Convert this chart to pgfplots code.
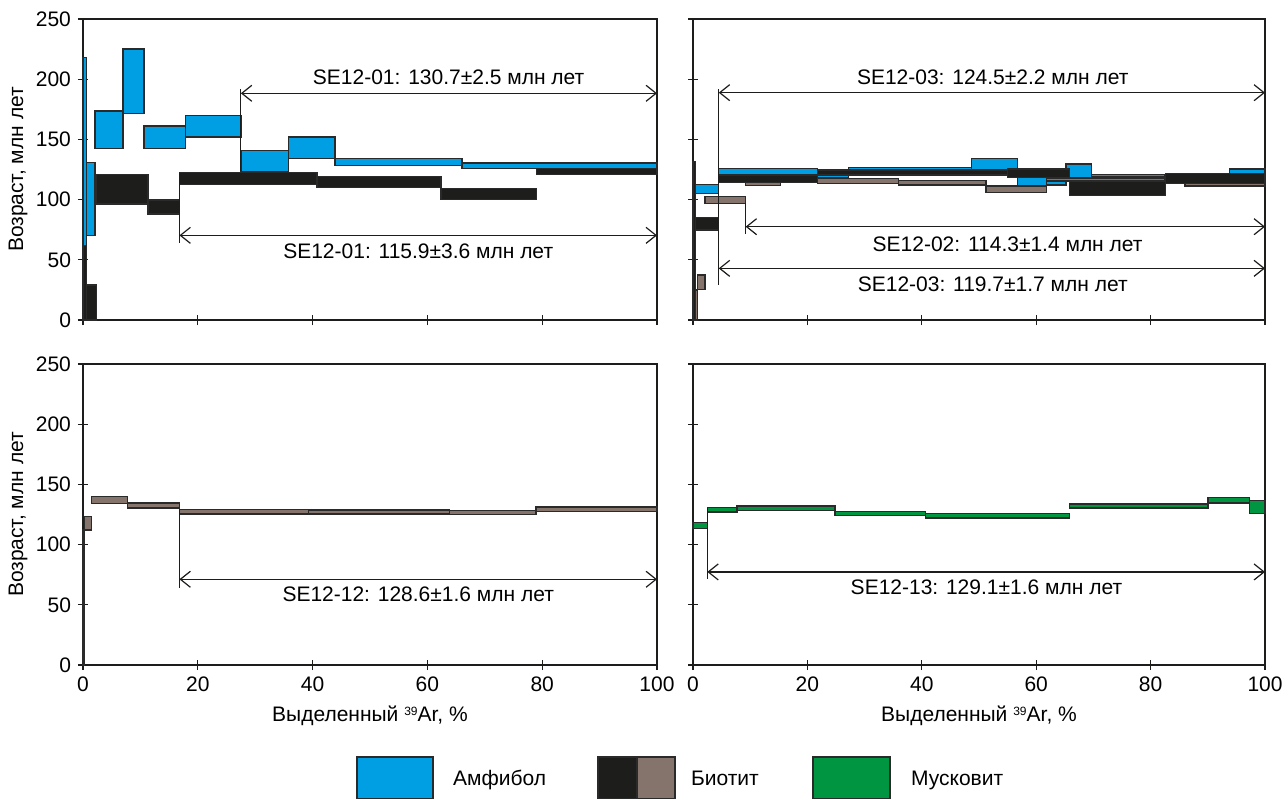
\documentclass[border=0pt]{standalone}
\usepackage{fontspec}
\setmainfont{Liberation Sans}
\usepackage{pgfplots}
\pgfplotsset{compat=1.18}
\usetikzlibrary{arrows.meta}

\definecolor{amph}{HTML}{009FE3}
\definecolor{bio}{HTML}{1D1D1B}
\definecolor{biob}{HTML}{85746B}
\definecolor{musc}{HTML}{009540}
\definecolor{edge}{HTML}{2A2A2A}

\tikzset{
  plat/.style={line width=0.6pt, draw=bio, {Straight Barb[length=5pt,width=8pt]}-{Straight Barb[length=5pt,width=8pt]}},
  vline/.style={line width=0.6pt, draw=bio},
}
\pgfplotsset{
  panel/.style={
    anchor=south west, scale only axis,
    width=287pt, height=150.5pt,
    xmin=0, xmax=100, ymin=0, ymax=250,
    xtick={0,20,...,100}, ytick={0,50,...,250},
    tick pos=left, tick align=center, major tick length=5pt,
    axis line style={line width=0.6pt, draw=bio},
    tick style={line width=0.6pt, draw=bio},
    /pgf/number format/assume math mode=true,
    ticklabel style={font=\fontsize{10.5}{12.6}\selectfont},
    label style={font=\fontsize{10.5}{12.6}\selectfont},
    every axis y label/.style={at={(axis description cs:0,0.5)}, rotate=90, anchor=center, yshift=32.5pt},
    every axis x label/.style={at={(axis description cs:0.5,0)}, anchor=center, yshift=-25.5pt},
    clip=false,
  },
  amph/.style={draw=edge, fill=amph, line width=0.7pt},
  bio/.style={draw=edge, fill=bio, line width=0.7pt},
  biob/.style={draw=edge, fill=biob, line width=0.7pt},
  musc/.style={draw=edge, fill=musc, line width=0.7pt},
}
\newcommand{\arsup}{\raisebox{3.2pt}{\fontsize{6}{6}\selectfont 39}}

\begin{document}
\begin{tikzpicture}[font=\fontsize{10.5}{12.6}\selectfont]

% top left: SE12-01 amphibole and biotite
\begin{axis}[panel, at={(41.5pt,240pt)}, xticklabels={}, ylabel={Возраст, млн лет}]
  \addplot[amph] coordinates {(0,60) (0,218) (0.6,218) (0.6,60)} -- cycle;
  \addplot[amph] coordinates {(0.6,70) (0.6,131) (2.1,131) (2.1,70)} -- cycle;
  \addplot[amph] coordinates {(2.1,142.6) (2.1,173.6) (7.0,173.6) (7.0,142.6)} -- cycle;
  \addplot[amph] coordinates {(7.0,171.7) (7.0,225) (10.6,225) (10.6,171.7)} -- cycle;
  \addplot[amph] coordinates {(10.6,142.6) (10.6,161) (17.9,161) (17.9,142.6)} -- cycle;
  \addplot[amph] coordinates {(17.9,152) (17.9,170) (27.5,170) (27.5,152)} -- cycle;
  \addplot[amph] coordinates {(27.5,123.2) (27.5,140.6) (35.8,140.6) (35.8,123.2)} -- cycle;
  \addplot[amph] coordinates {(35.8,134.3) (35.8,152) (43.9,152) (43.9,134.3)} -- cycle;
  \addplot[amph] coordinates {(43.9,128.5) (43.9,134.3) (66.0,134.3) (66.0,128.5)} -- cycle;
  \addplot[amph] coordinates {(66.0,126.0) (66.0,130.4) (100,130.4) (100,126.0)} -- cycle;

  \addplot[bio] coordinates {(0,0) (0,62) (0.6,62) (0.6,0)} -- cycle;
  \addplot[bio] coordinates {(0.6,0) (0.6,29) (2.4,29) (2.4,0)} -- cycle;
  \addplot[bio] coordinates {(2.4,96.3) (2.4,120.7) (11.3,120.7) (11.3,96.3)} -- cycle;
  \addplot[bio] coordinates {(11.3,88) (11.3,99.7) (16.8,99.7) (16.8,88)} -- cycle;
  \addplot[bio] coordinates {(16.8,112.7) (16.8,122.3) (40.8,122.3) (40.8,112.7)} -- cycle;
  \addplot[bio] coordinates {(40.8,110.2) (40.8,119) (62.4,119) (62.4,110.2)} -- cycle;
  \addplot[bio] coordinates {(62.4,100.2) (62.4,109.4) (79.0,109.4) (79.0,100.2)} -- cycle;
  \addplot[bio] coordinates {(79.0,121) (79.0,126) (100,126) (100,121)} -- cycle;

  \draw[vline] (axis cs:27.5,124) -- (axis cs:27.5,192);
  \draw[plat] (axis cs:27.5,188.3) -- (axis cs:100,188.3);
  \node[anchor=base] at (axis cs:63.7,196) {SE12-01: 130.7±2.5 млн лет};
  \draw[vline] (axis cs:16.8,122.3) -- (axis cs:16.8,63.7);
  \draw[plat] (axis cs:16.8,70.3) -- (axis cs:100,70.3);
  \node[anchor=base] at (axis cs:58.4,51.2) {SE12-01: 115.9±3.6 млн лет};
\end{axis}

% top right: SE12-03 amphibole, SE12-02 and SE12-03 biotite
\begin{axis}[panel, at={(346.5pt,240pt)}, width=286pt, xticklabels={}, yticklabels={}]
  \addplot[amph] coordinates {(0,105.2) (0,112.7) (4.5,112.7) (4.5,105.2)} -- cycle;
  \addplot[amph] coordinates {(4.5,120.4) (4.5,126) (21.8,126) (21.8,120.4)} -- cycle;
  \addplot[amph] coordinates {(21.8,118.5) (21.8,123) (27.2,123) (27.2,118.5)} -- cycle;
  \addplot[amph] coordinates {(27.2,122) (27.2,126.9) (48.7,126.9) (48.7,122)} -- cycle;
  \addplot[amph] coordinates {(48.7,125.2) (48.7,134.3) (56.7,134.3) (56.7,125.2)} -- cycle;
  \addplot[amph] coordinates {(56.7,111.5) (56.7,119) (61.8,119) (61.8,111.5)} -- cycle;
  \addplot[amph] coordinates {(61.8,112) (61.8,119) (65.2,119) (65.2,112)} -- cycle;
  \addplot[amph] coordinates {(65.2,118.5) (65.2,129.6) (69.7,129.6) (69.7,118.5)} -- cycle;
  \addplot[amph] coordinates {(69.7,118.8) (69.7,121) (82.5,121) (82.5,118.8)} -- cycle;
  \addplot[amph] coordinates {(82.5,116) (82.5,121) (93.8,121) (93.8,116)} -- cycle;
  \addplot[amph] coordinates {(93.8,121) (93.8,125.4) (100,125.4) (100,121)} -- cycle;

  \addplot[biob] coordinates {(0.3,0) (0.3,25) (0.8,25) (0.8,0)} -- cycle;
  \addplot[biob] coordinates {(0.8,25.5) (0.8,37.4) (2.1,37.4) (2.1,25.5)} -- cycle;
  \addplot[biob] coordinates {(2.1,96.9) (2.1,102.4) (9.2,102.4) (9.2,96.9)} -- cycle;
  \addplot[biob] coordinates {(9.2,111.5) (9.2,114.3) (15.3,114.3) (15.3,111.5)} -- cycle;
  \addplot[biob] coordinates {(15.3,114.5) (15.3,119) (21.8,119) (21.8,114.5)} -- cycle;
  \addplot[biob] coordinates {(21.8,113.3) (21.8,117.5) (35.9,117.5) (35.9,113.3)} -- cycle;
  \addplot[biob] coordinates {(35.9,112.1) (35.9,115.7) (51.2,115.7) (51.2,112.1)} -- cycle;
  \addplot[biob] coordinates {(51.2,105.7) (51.2,111.3) (61.8,111.3) (61.8,105.7)} -- cycle;
  \addplot[biob] coordinates {(61.8,115.5) (61.8,118) (82.5,118) (82.5,115.5)} -- cycle;
  \addplot[biob] coordinates {(82.5,114) (82.5,118) (86,118) (86,114)} -- cycle;
  \addplot[biob] coordinates {(86,111.3) (86,114) (100,114) (100,111.3)} -- cycle;

  \addplot[bio] coordinates {(0,0) (0,131.5) (0.4,131.5) (0.4,0)} -- cycle;
  \addplot[bio] coordinates {(0.4,74.8) (0.4,85.3) (4.5,85.3) (4.5,74.8)} -- cycle;
  \addplot[bio] coordinates {(4.5,114.3) (4.5,120.4) (21.8,120.4) (21.8,114.3)} -- cycle;
  \addplot[bio] coordinates {(21.8,120.4) (21.8,124.6) (55.0,124.6) (55.0,120.4)} -- cycle;
  \addplot[bio] coordinates {(55.0,118.2) (55.0,125.4) (65.8,125.4) (65.8,118.2)} -- cycle;
  \addplot[bio] coordinates {(65.8,103.5) (65.8,115) (82.6,115) (82.6,103.5)} -- cycle;
  \addplot[bio] coordinates {(82.6,113.5) (82.6,121.8) (100,121.8) (100,113.5)} -- cycle;

  \draw[vline] (axis cs:4.5,191.6) -- (axis cs:4.5,29);
  \draw[plat] (axis cs:4.5,188.8) -- (axis cs:100,188.8);
  \node[anchor=base] at (axis cs:52.4,195.2) {SE12-03: 124.5±2.2 млн лет};
  \draw[vline] (axis cs:9.2,97) -- (axis cs:9.2,71.4);
  \draw[plat] (axis cs:9.2,77.5) -- (axis cs:100,77.5);
  \node[anchor=base] at (axis cs:55.0,56.7) {SE12-02: 114.3±1.4 млн лет};
  \draw[plat] (axis cs:4.5,42.9) -- (axis cs:100,42.9);
  \node[anchor=base] at (axis cs:52.4,23.5) {SE12-03: 119.7±1.7 млн лет};
\end{axis}

% bottom left: SE12-12 biotite
\begin{axis}[panel, at={(41.5pt,67.5pt)}, ylabel={Возраст, млн лет}, xlabel={Выделенный \arsup Ar, \%}]
  \addplot[biob] coordinates {(0,0) (0,112) (0.3,112) (0.3,0)} -- cycle;
  \addplot[biob] coordinates {(0.3,112.2) (0.3,123.3) (1.5,123.3) (1.5,112.2)} -- cycle;
  \addplot[biob] coordinates {(1.5,134.3) (1.5,139.9) (7.8,139.9) (7.8,134.3)} -- cycle;
  \addplot[biob] coordinates {(7.8,130.4) (7.8,134.5) (16.8,134.5) (16.8,130.4)} -- cycle;
  \addplot[biob] coordinates {(16.8,125.4) (16.8,129.3) (39.3,129.3) (39.3,125.4)} -- cycle;
  \addplot[biob] coordinates {(39.3,125.5) (39.3,128.6) (63.8,128.6) (63.8,125.5)} -- cycle;
  \addplot[biob] coordinates {(63.8,124.9) (63.8,128.5) (78.9,128.5) (78.9,124.9)} -- cycle;
  \addplot[biob] coordinates {(78.9,127.4) (78.9,131.2) (100,131.2) (100,127.4)} -- cycle;

  \draw[vline] (axis cs:16.8,129.3) -- (axis cs:16.8,64.3);
  \draw[plat] (axis cs:16.8,71.2) -- (axis cs:100,71.2);
  \node[anchor=base] at (axis cs:58.4,52.6) {SE12-12: 128.6±1.6 млн лет};
\end{axis}

% bottom right: SE12-13 muscovite
\begin{axis}[panel, at={(346.5pt,67.5pt)}, width=286pt, yticklabels={}, xlabel={Выделенный \arsup Ar, \%}]
  \addplot[musc] coordinates {(0,113.3) (0,118.3) (2.5,118.3) (2.5,113.3)} -- cycle;
  \addplot[musc] coordinates {(2.5,127.1) (2.5,130.7) (7.7,130.7) (7.7,127.1)} -- cycle;
  \addplot[musc] coordinates {(7.7,128.5) (7.7,132.1) (24.8,132.1) (24.8,128.5)} -- cycle;
  \addplot[musc] coordinates {(24.8,124.4) (24.8,127.7) (40.6,127.7) (40.6,124.4)} -- cycle;
  \addplot[musc] coordinates {(40.6,122.2) (40.6,125.8) (65.8,125.8) (65.8,122.2)} -- cycle;
  \addplot[musc] coordinates {(65.8,130.5) (65.8,133.8) (90.0,133.8) (90.0,130.5)} -- cycle;
  \addplot[musc] coordinates {(90.0,134.6) (90.0,139.1) (97.3,139.1) (97.3,134.6)} -- cycle;
  \addplot[musc] coordinates {(97.3,125.8) (97.3,136.8) (100,136.8) (100,125.8)} -- cycle;

  \draw[vline] (axis cs:2.5,130.7) -- (axis cs:2.5,71.2);
  \draw[plat] (axis cs:2.5,77.3) -- (axis cs:100,77.3);
  \node[anchor=base] at (axis cs:51.3,58.7) {SE12-13: 129.1±1.6 млн лет};
\end{axis}

% legend
\draw[edge, line width=0.7pt, fill=amph] (178.5pt,0.8pt) rectangle (216.5pt,21.5pt);
\node[anchor=base west] at (223pt,7.3pt) {Амфибол};
\draw[edge, line width=0.7pt, fill=bio] (299pt,0.8pt) rectangle (318.5pt,21.5pt);
\draw[edge, line width=0.7pt, fill=biob] (318.5pt,0.8pt) rectangle (337.5pt,21.5pt);
\node[anchor=base west] at (342pt,7.3pt) {Биотит};
\draw[edge, line width=0.7pt, fill=musc] (406.5pt,0.8pt) rectangle (445pt,21.5pt);
\node[anchor=base west] at (452pt,7.3pt) {Мусковит};

\pgfresetboundingbox
\path[use as bounding box] (0,0) rectangle (644pt,400pt);
\end{tikzpicture}
\end{document}
